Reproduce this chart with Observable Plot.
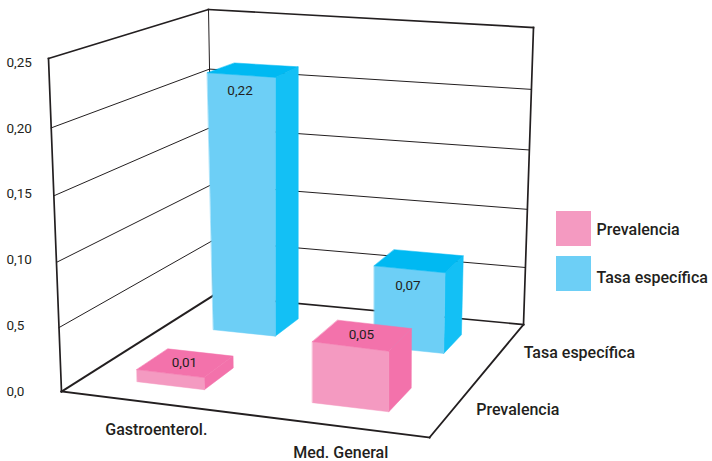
<!DOCTYPE html>
<html lang="es">
<head>
<meta charset="utf-8">
<title>Prevalencia y tasa específica</title>
<script src="https://cdn.jsdelivr.net/npm/d3@7"></script>
<script src="https://cdn.jsdelivr.net/npm/@observablehq/plot@0.6"></script>
<style>
  html, body { margin: 0; background: #fff; }
  svg { display: block; }
</style>
</head>
<body>
<div id="chart"></div>
<script>
// Chart data
const categories = ["Gastroenterol.", "Med. General"];
const seriesNames = ["Prevalencia", "Tasa específica"];
const prevalencia = [0.01, 0.05];
const tasaEspecifica = [0.22, 0.07];
const tickValues = [0, 0.05, 0.10, 0.15, 0.20, 0.25];
const tickLabels = ["0,0", "0,5", "0,10", "0,15", "0,20", "0,25"];

// Box corners on the page: floor and ceiling, in front-left, front-right,
// back-right, back-left order.
const floorCorners = [[61, 391], [429, 437], [523, 324], [213, 295]];
const ceilCorners = [[48, 58], [434, 112], [533, 27], [208, 9]];
const yMax = 0.25;
const heightPerspective = 0.95;

// Homography taking the unit square onto a quadrilateral.
function squareTo([[x0, y0], [x1, y1], [x2, y2], [x3, y3]]) {
  const dx1 = x1 - x2, dx2 = x3 - x2, sx = x0 - x1 + x2 - x3;
  const dy1 = y1 - y2, dy2 = y3 - y2, sy = y0 - y1 + y2 - y3;
  const den = dx1 * dy2 - dx2 * dy1;
  const g = (sx * dy2 - dx2 * sy) / den;
  const h = (dx1 * sy - sx * dy1) / den;
  const a = x1 - x0 + g * x1, b = x3 - x0 + h * x3;
  const d = y1 - y0 + g * y1, e = y3 - y0 + h * y3;
  return (u, w) => {
    const q = g * u + h * w + 1;
    return [(a * u + b * w + x0) / q, (d * u + e * w + y0) / q];
  };
}
const floorAt = squareTo(floorCorners);
const ceilAt = squareTo(ceilCorners);

// u runs along the categories, w runs into the depth, v is the value.
function heightFraction(v) {
  const n = v / yMax;
  return (n * heightPerspective) / (1 + (heightPerspective - 1) * n);
}
function project(u, w, v) {
  const t = heightFraction(v);
  const [fx, fy] = floorAt(u, w);
  const [cx, cy] = ceilAt(u, w);
  return [fx + (cx - fx) * t, fy + (cy - fy) * t];
}

// Bars rise almost straight up: only a slight lean away from the middle of the floor.
const barLean = d3.scaleLinear().domain([213, 275, 400, 462]).range([-7, 0, 0, 7]).clamp(true);
const barHeightScale = 0.97;
function projectBar(u, w, v) {
  const t = heightFraction(v);
  const [fx, fy] = floorAt(u, w);
  const [, cy] = ceilAt(u, w);
  return [fx + barLean(fx) * t, fy + (cy - fy) * t * barHeightScale];
}

// Bar footprints inside the box.
const categoryBand = new Map(categories.map((c, i) => [c, [0.153 + i * 0.499, 0.35 + i * 0.505]]));
const seriesBand = new Map([[seriesNames[0], [0.14, 0.335]], [seriesNames[1], [0.65, 0.84]]]);

const palette = {
  [seriesNames[0]]: { front: "#f49ac1", top: "#f372ab", side: "#f372ab" },
  [seriesNames[1]]: { front: "#6dcff6", top: "#00b9f2", side: "#13c0f5" }
};

const bars = [
  ...categories.map((c, i) => ({ category: c, series: seriesNames[1], value: tasaEspecifica[i] })),
  ...categories.map((c, i) => ({ category: c, series: seriesNames[0], value: prevalencia[i] }))
];

// Polygons for the three visible faces of every bar.
const faces = [];
const barLabels = [];
for (const [index, bar] of bars.entries()) {
  const [u0, u1] = categoryBand.get(bar.category);
  const [w0, w1] = seriesBand.get(bar.series);
  const v = bar.value;
  const colors = palette[bar.series];
  const addFace = (name, corners) => {
    for (const [u, w, h] of corners) {
      const [x, y] = projectBar(u, w, h);
      faces.push({ id: `${index}-${name}`, color: colors[name], x, y });
    }
  };
  addFace("side", [[u1, w0, 0], [u1, w1, 0], [u1, w1, v], [u1, w0, v]]);
  addFace("front", [[u0, w0, 0], [u1, w0, 0], [u1, w0, v], [u0, w0, v]]);
  addFace("top", [[u0, w0, v], [u1, w0, v], [u1, w1, v], [u0, w1, v]]);

  // Short bars carry the value on the top face, tall ones on the front.
  const onTop = bar.series === seriesNames[0];
  const [lx, ly] = onTop
    ? projectBar((u0 + u1) / 2, (w0 + w1) / 2, v)
    : projectBar((u0 + u1) / 2, w0, v);
  barLabels.push({ x: lx - 1, y: ly + (onTop ? 0 : 16), text: String(v).replace(".", ",") });
}

// Box outline and value grid.
const edges = [];
const addEdge = (id, weight, a, b) => {
  for (const [u, w, v] of [a, b]) {
    const [x, y] = project(u, w, v);
    edges.push({ id, weight, x, y });
  }
};
addEdge("left", 1.7, [0, 0, 0], [0, 0, yMax]);
addEdge("back-left", 1, [0, 1, 0], [0, 1, yMax]);
addEdge("right", 1.7, [1, 1, 0], [1, 1, yMax]);
addEdge("top-left", 1.7, [0, 0, yMax], [0, 1, yMax]);
addEdge("top-back", 1.7, [0, 1, yMax], [1, 1, yMax]);
addEdge("floor-left", 2, [0, 0, 0], [0, 1, 0]);
addEdge("floor-front", 2, [0, 0, 0], [1, 0, 0]);
addEdge("floor-back", 1.7, [0, 1, 0], [1, 1, 0]);
addEdge("floor-right", 1.8, [1, 0, 0], [1, 1, 0]);
for (const tick of tickValues.slice(1, -1)) {
  addEdge(`wall-${tick}`, 1, [0, 0, tick], [0, 1, tick]);
  addEdge(`back-${tick}`, 1, [0, 1, tick], [1, 1, tick]);
}

// Axis labels.
const tickRows = tickValues.map((t, i) => ({
  label: tickLabels[i],
  y: 391 - (t / yMax) * 329
}));
const categoryRows = categories.map((c) => {
  const [a, b] = categoryBand.get(c);
  const [x, y] = floorAt((a + b) / 2, 0);
  return { label: c, x: x + 9, y: y + 28 };
});
const seriesRows = seriesNames.map((s) => {
  const [a, b] = seriesBand.get(s);
  const [x, y] = floorAt(1, (a + b) / 2);
  return { label: s, x: x + 20.5, y: y + 4 };
});

// Legend.
const swatchLeft = 556, swatchSize = 35;
const legendRows = seriesNames.map((s, i) => ({
  label: s,
  color: palette[s].front,
  top: 211 + i * 45
}));

const textColor = "#231f20";
const fontFamily = "Roboto, 'Liberation Sans', Arial, sans-serif";
const smallFont = 13.5, labelFont = 16;

const chart = Plot.plot({
  width: 712,
  height: 461,
  margin: 0,
  x: { domain: [0, 712], range: [0, 712], axis: null },
  y: { domain: [0, 461], range: [0, 461], axis: null },
  color: { type: "identity" },
  style: { background: "#fff", fontFamily },
  marks: [
    Plot.line(edges, {
      x: "x", y: "y", z: "id",
      stroke: textColor,
      strokeWidth: "weight",
      strokeLinecap: "square"
    }),
    Plot.line(faces, {
      x: "x", y: "y", z: "id",
      fill: "color",
      stroke: "color",
      strokeWidth: 0.5,
      curve: "linear-closed"
    }),
    Plot.text(barLabels, {
      x: "x", y: "y", text: "text",
      fill: textColor, fontSize: smallFont
    }),
    Plot.text(tickRows, {
      y: "y", text: "label",
      frameAnchor: "left", dx: 6,
      textAnchor: "start",
      fill: textColor, fontSize: smallFont
    }),
    Plot.text(categoryRows, {
      x: "x", y: "y", text: "label",
      fill: textColor, fontSize: labelFont, fontWeight: 500
    }),
    Plot.text(seriesRows, {
      x: "x", y: "y", text: "label",
      textAnchor: "start",
      fill: textColor, fontSize: labelFont, fontWeight: 500
    }),
    Plot.rect(legendRows, {
      x1: () => swatchLeft,
      x2: () => swatchLeft + swatchSize,
      y1: "top",
      y2: (d) => d.top + swatchSize,
      fill: "color"
    }),
    Plot.text(legendRows, {
      x: () => swatchLeft + swatchSize + 5,
      y: (d, i) => d.top + swatchSize / 2 + (i ? 4 : 0.5),
      text: "label",
      textAnchor: "start",
      fill: textColor, fontSize: labelFont, fontWeight: 500
    })
  ]
});

document.getElementById("chart").append(chart);
</script>
</body>
</html>
